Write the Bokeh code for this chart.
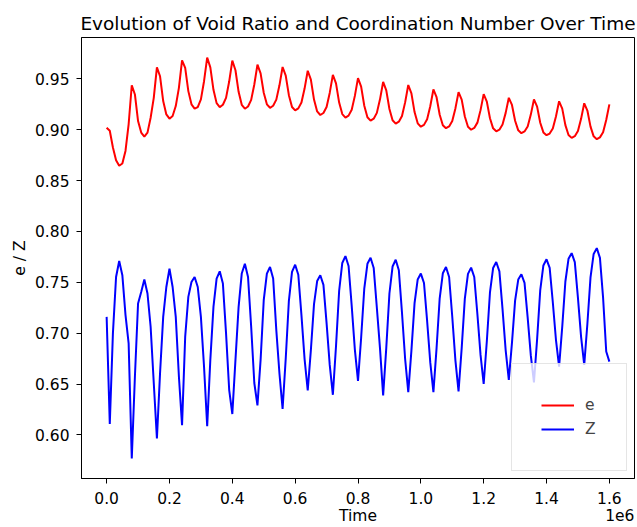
import numpy as np
from bokeh.plotting import figure
from bokeh.models import Range1d, FixedTicker, CustomJSTickFormatter, Legend, LegendItem, LinearAxis
from bokeh.embed import file_html
from bokeh.resources import INLINE

FONT = "DejaVu Sans"

title_text = "Evolution of Void Ratio and Coordination Number Over Time"
x_label = "Time"
y_label = "e / Z"
offset_text = "1e6"

# sample times: 0 .. 1.6e6, every 10 000 time units
time = np.arange(161) * 10000

# void ratio e
e = [0.902, 0.899, 0.8825, 0.870, 0.8646, 0.8668, 0.8792, 0.9054, 0.9438,
     0.9347, 0.9086, 0.8972, 0.8932, 0.8972, 0.9118, 0.9314, 0.9614,
     0.9526, 0.9282, 0.9151, 0.9109, 0.9135, 0.9233, 0.9412, 0.9683,
     0.9608, 0.938, 0.925, 0.9207, 0.9223, 0.9298, 0.9477, 0.971,
     0.9613, 0.9393, 0.9262, 0.9223, 0.9246, 0.9314, 0.9474, 0.968,
     0.9585, 0.9373, 0.9245, 0.9207, 0.9229, 0.9294, 0.9445, 0.964,
     0.9555, 0.9364, 0.925, 0.9216, 0.9236, 0.9296, 0.9437, 0.9617,
     0.9532, 0.934, 0.9224, 0.919, 0.921, 0.9268, 0.9405, 0.958,
     0.9493, 0.9297, 0.918, 0.9145, 0.9165, 0.9224, 0.9362, 0.954,
     0.9456, 0.9267, 0.9154, 0.912, 0.9139, 0.9197, 0.9333, 0.9507,
     0.9424, 0.9236, 0.9123, 0.909, 0.9109, 0.9166, 0.9299, 0.947,
     0.9388, 0.9204, 0.9093, 0.906, 0.9079, 0.9136, 0.9269, 0.944,
     0.9358, 0.9174, 0.9063, 0.903, 0.9048, 0.9103, 0.9231, 0.9396,
     0.932, 0.9148, 0.9045, 0.9015, 0.9033, 0.9086, 0.921, 0.937,
     0.9296, 0.913, 0.903, 0.900, 0.9018, 0.907, 0.9193, 0.935,
     0.9277, 0.9113, 0.9014, 0.8985, 0.9001, 0.9051, 0.9166, 0.9314,
     0.9244, 0.9088, 0.8994, 0.8966, 0.8983, 0.9032, 0.9149, 0.9298,
     0.9228, 0.9069, 0.8974, 0.8946, 0.8963, 0.9013, 0.913, 0.928,
     0.9208, 0.9046, 0.8949, 0.892, 0.8937, 0.8988, 0.9107, 0.926,
     0.9189, 0.9031, 0.8935, 0.8907, 0.8925, 0.8975, 0.9096, 0.925]

# coordination number Z
Z = [0.716, 0.6107, 0.700, 0.7552, 0.7709, 0.757, 0.718, 0.690, 0.5768,
     0.6574, 0.7292, 0.7405, 0.7527, 0.739, 0.7063, 0.651, 0.5964,
     0.6607, 0.716, 0.7454, 0.7634, 0.7454, 0.716, 0.6574, 0.6094,
     0.6965, 0.7357, 0.7503, 0.7552, 0.7454, 0.716, 0.667, 0.6084,
     0.6737, 0.7259, 0.7537, 0.7608, 0.7488, 0.700, 0.6443, 0.6205,
     0.6737, 0.7259, 0.7586, 0.7683, 0.7552, 0.7063, 0.651, 0.629,
     0.6737, 0.7324, 0.7586, 0.765, 0.7537, 0.703, 0.6603, 0.6254,
     0.6751, 0.7318, 0.7602, 0.7673, 0.7574, 0.7178, 0.6745, 0.6436,
     0.6833, 0.7286, 0.7512, 0.7569, 0.7475, 0.7099, 0.6688, 0.6394,
     0.6871, 0.7417, 0.769, 0.7758, 0.766, 0.7267, 0.6838, 0.6531,
     0.6955, 0.7439, 0.7682, 0.7742, 0.764, 0.725, 0.685, 0.6388,
     0.6855, 0.739, 0.7655, 0.7722, 0.7618, 0.7201, 0.6746, 0.642,
     0.6828, 0.7295, 0.7528, 0.7586, 0.7493, 0.712, 0.6712, 0.642,
     0.6851, 0.7343, 0.7589, 0.765, 0.7552, 0.7161, 0.6733, 0.6427,
     0.6853, 0.734, 0.7583, 0.7644, 0.7552, 0.7186, 0.6786, 0.650,
     0.692, 0.74, 0.764, 0.770, 0.7607, 0.7236, 0.6831, 0.6541,
     0.6904, 0.732, 0.7527, 0.7579, 0.7494, 0.7153, 0.6781, 0.6515,
     0.6939, 0.7423, 0.7666, 0.7726, 0.7642, 0.7304, 0.6935, 0.6671,
     0.7062, 0.7508, 0.7731, 0.7787, 0.7699, 0.7347, 0.6963, 0.6688,
     0.709, 0.7549, 0.7779, 0.7836, 0.774, 0.735, 0.682, 0.672]

x_ticks = [0, 200000, 400000, 600000, 800000, 1000000, 1200000, 1400000, 1600000]
y_ticks = [0.60, 0.65, 0.70, 0.75, 0.80, 0.85, 0.90, 0.95]

# matplotlib-like 5% data margins
tmin, tmax = float(time.min()), float(time.max())
xpad = 0.05 * (tmax - tmin)
x0, x1 = tmin - xpad, tmax + xpad
vmin = min(min(e), min(Z))
vmax = max(max(e), max(Z))
ypad = 0.05 * (vmax - vmin)

p = figure(width=637, height=527, output_backend="svg", toolbar_location=None,
           title=title_text,
           x_range=Range1d(x0, x1),
           y_range=Range1d(vmin - ypad, vmax + ypad),
           min_border_left=81, min_border_right=3, min_border_top=37, min_border_bottom=0)

p.title.text_font = FONT
p.title.text_font_size = "18.5px"
p.title.text_font_style = "normal"
p.title.align = "center"
p.title.text_color = "black"
p.title.standoff = 7

r_e = p.line(time, e, line_color="#ff0000", line_width=2)
r_z = p.line(time, Z, line_color="#0000ff", line_width=2)

p.xgrid.visible = False
p.ygrid.visible = False
p.outline_line_color = "black"
p.outline_line_width = 1
p.outline_line_alpha = 1
p.background_fill_color = "white"
p.border_fill_color = "white"

for ax in (p.xaxis[0], p.yaxis[0]):
    ax.axis_line_color = "black"
    ax.major_tick_line_color = "black"
    ax.major_tick_out = 5
    ax.major_tick_in = 0
    ax.minor_tick_line_color = None
    ax.minor_tick_out = 0
    ax.major_label_text_font = FONT
    ax.major_label_text_font_size = "15.5px"
    ax.major_label_text_color = "black"
    ax.axis_label_text_font = FONT
    ax.axis_label_text_font_size = "15.5px"
    ax.axis_label_text_font_style = "normal"
    ax.axis_label_text_color = "black"

p.xaxis.ticker = FixedTicker(ticks=x_ticks)
p.yaxis.ticker = FixedTicker(ticks=y_ticks)
p.xaxis.formatter = CustomJSTickFormatter(code="return (tick/1e6).toFixed(1);")
p.yaxis.formatter = CustomJSTickFormatter(code="return tick.toFixed(2);")
p.xaxis.major_label_standoff = 8
p.yaxis.axis_label = y_label
p.yaxis.major_label_standoff = 7
p.yaxis.axis_label_standoff = 3

# second row under the x axis: the axis title "Time" (centred) and the
# matplotlib-style offset text "1e6" (at the right end)
x_mid = 0.5 * (x0 + x1)
x_off = x1 - 0.0265 * (x1 - x0)
label_axis = LinearAxis(ticker=FixedTicker(ticks=[x_mid, x_off]),
                        major_label_overrides={x_mid: x_label, x_off: offset_text},
                        axis_line_color=None, major_tick_line_color=None,
                        minor_tick_line_color=None, major_tick_out=0, major_tick_in=0,
                        minor_tick_out=0, minor_tick_in=0, major_label_standoff=0,
                        major_label_text_font=FONT, major_label_text_font_size="15.5px",
                        major_label_text_color="black")
p.add_layout(label_axis, "below")

legend = Legend(items=[LegendItem(label="e", renderers=[r_e]),
                       LegendItem(label="Z", renderers=[r_z])],
                location="bottom_right", margin=7, padding=29, spacing=0,
                glyph_width=33, glyph_height=24, label_height=24, label_width=12,
                label_standoff=11,
                label_text_font=FONT, label_text_font_size="15.5px",
                border_line_color="#cccccc", border_line_width=1,
                background_fill_color="white", background_fill_alpha=0.8)
p.add_layout(legend)

open("out.html", "w").write(file_html(p, INLINE))
